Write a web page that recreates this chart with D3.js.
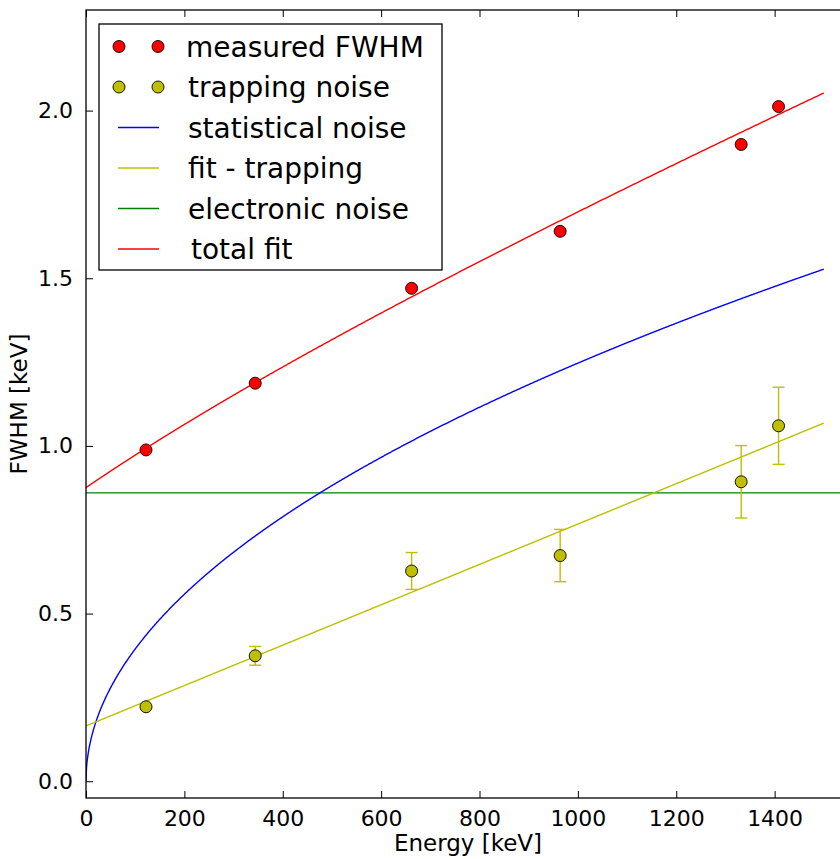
<!DOCTYPE html>
<html>
<head>
<meta charset="utf-8">
<script src="https://cdn.jsdelivr.net/npm/d3@7"></script>
<style>
  html, body { margin: 0; padding: 0; background: #fff; }
  svg { display: block; font-family: "DejaVu Sans", sans-serif; }
</style>
</head>
<body>
<svg id="chart" width="840" height="859"></svg>
<script>
// Source energies of the calibration lines [keV]
const energies = [122, 344, 662, 964, 1332, 1408];
// Measured resolution (FWHM) [keV]
const measuredFWHM = [0.988, 1.187, 1.470, 1.640, 1.899, 2.012];
// Extracted trapping contribution [keV] and its uncertainty
const trappingNoise = [0.222, 0.374, 0.627, 0.673, 0.893, 1.060];
const trappingErr = [0, 0.028, 0.055, 0.078, 0.108, 0.115];

// Fit parameters of the noise model
const electronicNoise = 0.86;      // constant term [keV]
const statCoeff = 0.03943;         // statistical term: statCoeff * sqrt(E)
const trapIntercept = 0.165;       // trapping term: intercept + slope * E
const trapSlope = 0.000602;
const fitMaxE = 1500;

const xTicks = [0, 200, 400, 600, 800, 1000, 1200, 1400];
const yTicks = [0.0, 0.5, 1.0, 1.5, 2.0];

const legendItems = [
  { label: "measured FWHM", kind: "marker", color: "#ff0000", dx: 0 },
  { label: "trapping noise", kind: "marker", color: "#bfbf00", dx: 2 },
  { label: "statistical noise", kind: "line", color: "#0000ff", dx: 2 },
  { label: "fit - trapping", kind: "line", color: "#bfbf00", dx: 2 },
  { label: "electronic noise", kind: "line", color: "#008000", dx: 2 },
  { label: "total fit", kind: "line", color: "#ff0000", dx: 5 }
];

const svg = d3.select("#chart");
const plotL = 86, plotT = 10, plotR = 873, plotB = 798;

const x = d3.scaleLinear().domain([0, 1600]).range([plotL, plotR]);
const y = d3.scaleLinear().domain([-0.05, 2.3]).range([plotB, plotT]);

svg.append("defs").append("clipPath").attr("id", "plotClip")
  .append("rect").attr("x", plotL).attr("y", plotT)
  .attr("width", plotR - plotL).attr("height", plotB - plotT);

const plot = svg.append("g").attr("clip-path", "url(#plotClip)");

// Model curves evaluated along the energy axis
const eGrid = d3.range(0, fitMaxE + 0.5, 1);
const statCurve = eGrid.map(e => [e, statCoeff * Math.sqrt(e)]);
const trapCurve = eGrid.map(e => [e, trapIntercept + trapSlope * e]);
const totalCurve = eGrid.map(e => {
  const s = statCoeff * Math.sqrt(e), t = trapIntercept + trapSlope * e;
  return [e, Math.sqrt(electronicNoise * electronicNoise + s * s + t * t)];
});

const line = d3.line().x(d => x(d[0])).y(d => y(d[1]));

plot.append("line")
  .attr("x1", plotL).attr("x2", plotR)
  .attr("y1", y(electronicNoise)).attr("y2", y(electronicNoise))
  .attr("stroke", "#008000").attr("stroke-width", 1.4);

plot.append("path").datum(statCurve).attr("d", line)
  .attr("fill", "none").attr("stroke", "#0000ff").attr("stroke-width", 1.4);
plot.append("path").datum(trapCurve).attr("d", line)
  .attr("fill", "none").attr("stroke", "#bfbf00").attr("stroke-width", 1.4);
plot.append("path").datum(totalCurve).attr("d", line)
  .attr("fill", "none").attr("stroke", "#ff0000").attr("stroke-width", 1.4);

// Error bars on the trapping contribution
const errData = energies.map((e, i) => ({ e, v: trappingNoise[i], err: trappingErr[i] }))
  .filter(d => d.err > 0);
const eb = plot.append("g").attr("stroke", "#bfbf00").attr("stroke-width", 1.4);
eb.selectAll("line.bar").data(errData).join("line").attr("class", "bar")
  .attr("x1", d => x(d.e)).attr("x2", d => x(d.e))
  .attr("y1", d => y(d.v - d.err)).attr("y2", d => y(d.v + d.err));
eb.selectAll("line.capTop").data(errData).join("line").attr("class", "capTop")
  .attr("x1", d => x(d.e) - 6).attr("x2", d => x(d.e) + 6)
  .attr("y1", d => y(d.v + d.err)).attr("y2", d => y(d.v + d.err));
eb.selectAll("line.capBot").data(errData).join("line").attr("class", "capBot")
  .attr("x1", d => x(d.e) - 6).attr("x2", d => x(d.e) + 6)
  .attr("y1", d => y(d.v - d.err)).attr("y2", d => y(d.v - d.err));

plot.selectAll("circle.meas").data(energies).join("circle").attr("class", "meas")
  .attr("cx", d => x(d)).attr("cy", (d, i) => y(measuredFWHM[i])).attr("r", 6)
  .attr("fill", "#ff0000").attr("stroke", "#000").attr("stroke-width", 0.9);
plot.selectAll("circle.trap").data(energies).join("circle").attr("class", "trap")
  .attr("cx", d => x(d)).attr("cy", (d, i) => y(trappingNoise[i])).attr("r", 6)
  .attr("fill", "#bfbf00").attr("stroke", "#000").attr("stroke-width", 0.9);

// Frame and inward ticks
svg.append("rect").attr("x", plotL).attr("y", plotT)
  .attr("width", plotR - plotL).attr("height", plotB - plotT)
  .attr("fill", "none").attr("stroke", "#000").attr("stroke-width", 1.3);

const xAxis = d3.axisBottom(x).tickValues(xTicks).tickFormat(d3.format("d"))
  .tickSizeInner(-7).tickSizeOuter(0).tickPadding(12);
const gx = svg.append("g").attr("transform", `translate(0,${plotB})`).call(xAxis);
gx.select(".domain").remove();
gx.selectAll("text").attr("font-size", 22).attr("font-family", "DejaVu Sans").attr("fill", "#000");

const xTop = d3.axisTop(x).tickValues(xTicks).tickFormat("").tickSizeInner(-7).tickSizeOuter(0);
const gxt = svg.append("g").attr("transform", `translate(0,${plotT})`).call(xTop);
gxt.select(".domain").remove();

const yAxis = d3.axisLeft(y).tickValues(yTicks).tickFormat(d3.format(".1f"))
  .tickSizeInner(-7).tickSizeOuter(0).tickPadding(13);
const gy = svg.append("g").attr("transform", `translate(${plotL},0)`).call(yAxis);
gy.select(".domain").remove();
gy.selectAll("text").attr("font-size", 22).attr("font-family", "DejaVu Sans").attr("fill", "#000");

svg.selectAll(".tick line").attr("stroke", "#000").attr("stroke-width", 1);

// Axis titles
svg.append("text").attr("x", 468).attr("y", 851).attr("text-anchor", "middle")
  .attr("font-size", 23).attr("fill", "#000").text("Energy [keV]");
svg.append("text").attr("transform", `translate(27,${(plotT + plotB) / 2}) rotate(-90)`)
  .attr("text-anchor", "middle").attr("font-size", 23).attr("fill", "#000").text("FWHM [keV]");

// Legend
const lg = svg.append("g");
lg.append("rect").attr("x", 99).attr("y", 24).attr("width", 343).attr("height", 246)
  .attr("fill", "#fff").attr("stroke", "#000").attr("stroke-width", 1.3);
const rowY = i => 46.5 + i * 40.5;
legendItems.forEach((d, i) => {
  const cy = rowY(i);
  if (d.kind === "marker") {
    [119, 158].forEach(cx => lg.append("circle").attr("cx", cx).attr("cy", cy).attr("r", 6)
      .attr("fill", d.color).attr("stroke", "#000").attr("stroke-width", 0.9));
  } else {
    lg.append("line").attr("x1", 118).attr("x2", 159).attr("y1", cy).attr("y2", cy)
      .attr("stroke", d.color).attr("stroke-width", 1.4);
  }
  lg.append("text").attr("x", 186 + d.dx).attr("y", cy).attr("dy", "0.36em")
    .attr("font-size", 28).attr("fill", "#000").text(d.label);
});
</script>
</body>
</html>
